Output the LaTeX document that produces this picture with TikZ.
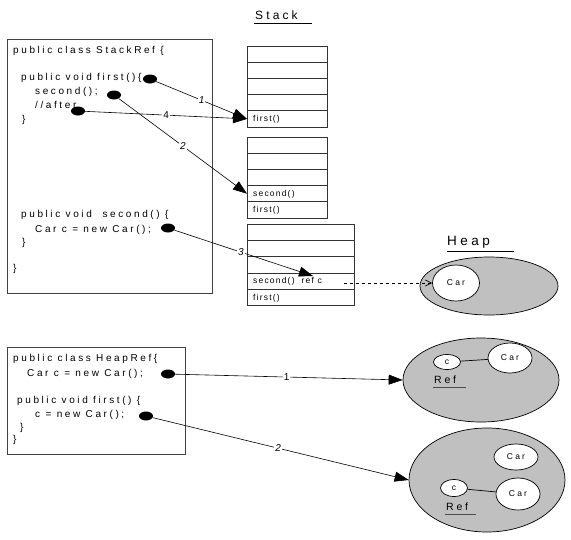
\documentclass[tikz,border=0pt]{standalone}
\usepackage{fontspec}
\setmainfont{Liberation Sans}
\newfontfamily\codefont[LetterSpace=26]{Liberation Sans}
\newfontfamily\cellfont[LetterSpace=14]{Liberation Sans}
\usetikzlibrary{arrows.meta,shapes.geometric}
\definecolor{heapgray}{RGB}{192,192,192}
\begin{document}
\begin{tikzpicture}[x=1pt,y=-1pt,
  code/.style={anchor=west, inner sep=0pt, font=\codefont\fontsize{10}{11}\selectfont},
  celltxt/.style={anchor=west, inner sep=0pt, font=\cellfont\fontsize{8.5}{9}\selectfont},
  title/.style={anchor=west, inner sep=0pt, font=\codefont\fontsize{12}{13}\selectfont},
  box/.style={draw=black!75, line width=0.9pt, anchor=north west, inner sep=0pt},
  cell/.style={draw=black!80, line width=0.7pt, anchor=north west, inner sep=0pt, outer sep=0pt, minimum height=16.2pt},
  dot/.style={ellipse, fill=black, minimum width=14pt, minimum height=9pt, inner sep=0pt},
  arr/.style={-{Triangle[length=14pt,width=10pt]}, line width=0.6pt},
  num/.style={fill=white, inner sep=1pt, font=\fontsize{10}{11}\selectfont},
  heap/.style={ellipse, draw, fill=heapgray, line width=0.7pt, inner sep=0pt},
  obj/.style={ellipse, draw, fill=white, line width=0.7pt, inner sep=0pt, font=\codefont\fontsize{8.5}{9}\selectfont}
]
\useasboundingbox (0,0) rectangle (571,539);

% ---------- Stack title ----------
\node[title] (stacktitle) at (255,15) {Stack};
\draw[line width=0.6pt] (254,23) -- (312,23);

% ---------- StackRef box ----------
\node[box, minimum width=205pt, minimum height=254pt] (sr) at (7,39) {};
\node[code] (t1) at (13,51) {public class StackRef \{};
\node[code] (t2) at (21,78) {public void first()\{};
\node[code] (t3) at (35,92) {second();};
\node[code] (t4) at (35,105) {//after};
\node[code] (t5) at (22,120) {\}};
\node[code] (t6) at (21,215) {public void\ \ second() \{};
\node[code] (t7) at (35,230) {Car c = new Car();};
\node[code] (t8) at (22,243) {\}};
\node[code] (t9) at (13,269) {\}};

\node[dot] (d1) at (150,79) {};
\node[dot] (d2) at (114,95) {};
\node[dot] (d4) at (78,111) {};
\node[dot] (d3) at (168,228) {};

% ---------- Stack frames ----------
\foreach \i in {1,...,5} {
  \node[cell, minimum width=80pt] (a\i) at (247,{46+(\i-1)*16.2}) {};
  \node[cell, minimum width=80pt] (b\i) at (247,{137+(\i-1)*16.2}) {};
  \node[cell, minimum width=107pt] (c\i) at (247,{224+(\i-1)*16.4}) {};
}
\node[celltxt] (a5t) at (253,119.5) {first()};
\node[celltxt] (b4t) at (253,194) {second()};
\node[celltxt] (b5t) at (253,210.5) {first()};
\node[celltxt] (c4t) at (253,281.5) {second()\ \ ref c};
\node[celltxt] (c5t) at (253,298) {first()};
\coordinate (c4in) at (313,276);
\coordinate (refc) at (344,283);

% ---------- Heap (top) ----------
\node[title, font=\codefont\fontsize{13.5}{14}\selectfont] (heaptitle) at (447,242) {Heap};
\draw[line width=0.6pt] (447,251) -- (514,251);
\node[heap, minimum width=138pt, minimum height=58pt] (h0) at (489,286) {};
\node[obj, minimum width=47pt, minimum height=36pt] (car0) at (456,283) {Car};

% ---------- arrows (stack) ----------
\draw[arr] (d1) -- node[num, pos=0.5] {\itshape 1} (a5.west);
\draw[arr] (d4) -- node[num, pos=0.5] {4} (a5.west);
\draw[arr] (d2) -- node[num, pos=0.5] {\itshape 2} (b4.west);
\draw[arr] (d3) -- node[num, pos=0.48] {\itshape 3} (c4in);
\draw[dashed, line width=0.7pt, -{Straight Barb[length=6pt,width=6pt]}] (refc) -- (car0.west);

% ---------- HeapRef box ----------
\node[box, minimum width=178pt, minimum height=107pt] (hr) at (7,347) {};
\node[code] (u1) at (13,359) {public class HeapRef\{};
\node[code] (u2) at (27,374) {Car c = new Car();};
\node[code] (u3) at (17,401) {public void first() \{};
\node[code] (u4) at (35,415) {c = new Car();};
\node[code] (u5) at (20,428) {\}};
\node[code] (u6) at (13,440) {\}};

\node[dot] (e1) at (168,374) {};
\node[dot] (e2) at (146,416) {};

% ---------- Heap ellipses (bottom) ----------
\node[heap, minimum width=156pt, minimum height=84pt] (h1) at (481,380) {};
\node[obj, minimum width=27pt, minimum height=15pt] (c1) at (447,362) {c};
\node[obj, minimum width=44pt, minimum height=30pt] (car1) at (510,358) {Car};
\draw[line width=0.7pt] (c1) -- (car1);
\node[code, font=\codefont\fontsize{10.5}{11}\selectfont] (ref1) at (434,380) {Ref};
\draw[line width=0.9pt, black!70] (433,387) -- (466,387);

\node[heap, minimum width=156pt, minimum height=104pt] (h2) at (487,480) {};
\node[obj, minimum width=44pt, minimum height=26pt] (car2a) at (516,457) {Car};
\node[obj, minimum width=27pt, minimum height=17pt] (c2) at (454,488) {c};
\node[obj, minimum width=44pt, minimum height=32pt] (car2b) at (518,494) {Car};
\draw[line width=0.7pt] (c2) -- (car2b);
\node[code, font=\codefont\fontsize{10.5}{11}\selectfont] (ref2) at (446,507) {Ref};
\draw[line width=0.9pt, black!70] (445,514) -- (476,514);

\draw[arr] (e1) -- node[num, pos=0.49] {1} (h1.west);
\draw[arr] (e2) -- node[num, pos=0.49] {\itshape 2} (h2.west);
\end{tikzpicture}
\end{document}
